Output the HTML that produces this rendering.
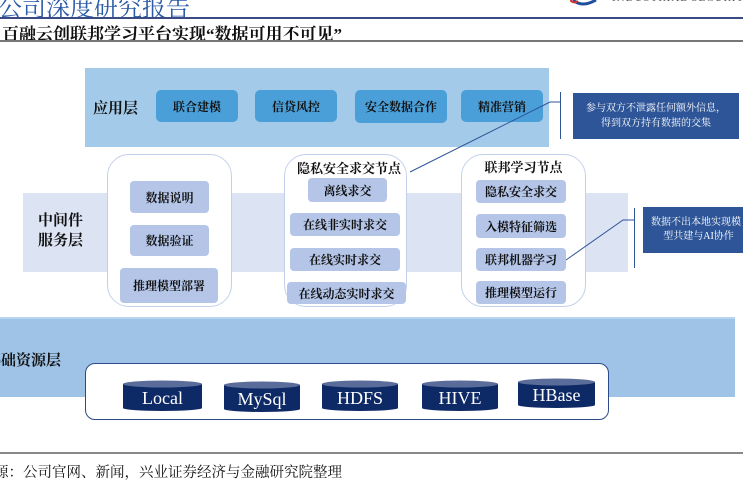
<!DOCTYPE html>
<html><head><meta charset="utf-8"><style>
*{margin:0;padding:0;box-sizing:border-box}
body{width:743px;height:480px;position:relative;overflow:hidden;background:#fff;font-family:"Liberation Serif","Noto Serif CJK SC","Noto Sans CJK SC",serif;color:#111}
.a{position:absolute}
.c{display:flex;align-items:center;justify-content:center;text-align:center}
.btn{background:#4a9fd8;border-radius:5px;font-weight:bold;font-size:12px}
.sb{background:#b4c5e8;border-radius:4px;font-weight:bold;font-size:12px}
.col{background:#fff;border:1.5px solid #c3d0ec;border-radius:22px}
.note{background:#2e5597;color:#fff;font-size:10px;line-height:15px}
</style></head><body>
<div class="a" style="left:-2px;top:-12px;font-size:24px;color:#2a5aa8;white-space:nowrap">公司深度研究报告</div>
<svg class="a" style="left:570px;top:0" width="30" height="8"><path d="M3 0 Q12 8 26 0" stroke="#1f4e9e" stroke-width="3" fill="none"/><path d="M0 0 Q4 4 8 1" stroke="#d03030" stroke-width="2" fill="none"/></svg>
<div class="a" style="left:612px;top:-8px;font-size:11px;color:#555;letter-spacing:1px;white-space:nowrap">INDUSTRIAL SECURITIES</div>
<div class="a" style="left:0;top:17px;width:743px;height:2px;background:#3a4a82"></div>
<div class="a" style="left:2px;top:20px;font-size:17px;font-weight:bold;white-space:nowrap">百融云创联邦学习平台实现“数据可用不可见”</div>
<div class="a" style="left:0;top:40px;width:743px;height:2px;background:#777"></div>

<div class="a" style="left:85px;top:68px;width:464px;height:79px;background:#a3cbe9"></div>
<div class="a" style="left:93px;top:97px;font-size:15px;font-weight:bold">应用层</div>
<div class="a c btn" style="left:156px;top:90px;width:82px;height:32px">联合建模</div>
<div class="a c btn" style="left:255px;top:90px;width:82px;height:32px">信贷风控</div>
<div class="a c btn" style="left:355px;top:90px;width:92px;height:33px">安全数据合作</div>
<div class="a c btn" style="left:461px;top:90px;width:82px;height:32px">精准营销</div>
<div class="a" style="left:560px;top:92px;width:1px;height:47px;background:#2e5597"></div>
<div class="a c note" style="left:573px;top:93px;width:166px;height:46px">参与双方不泄露任何额外信息，<br>得到双方持有数据的交集</div>

<div class="a" style="left:23px;top:193px;width:605px;height:79px;background:#dce3f3"></div>
<div class="a" style="left:38px;top:211px;font-size:15px;font-weight:bold;line-height:20px">中间件<br>服务层</div>

<div class="a col" style="left:107px;top:154px;width:125px;height:153px"></div>
<div class="a c sb" style="left:130px;top:181px;width:79px;height:32px">数据说明</div>
<div class="a c sb" style="left:130px;top:225px;width:79px;height:31px">数据验证</div>
<div class="a c sb" style="left:120px;top:268px;width:98px;height:35px">推理模型部署</div>

<div class="a col" style="left:284px;top:154px;width:123px;height:153px"></div>
<div class="a" style="left:289px;top:158px;width:120px;text-align:center;font-size:13px;font-weight:bold">隐私安全求交节点</div>
<div class="a c sb" style="left:308px;top:178px;width:79px;height:24px">离线求交</div>
<div class="a c sb" style="left:290px;top:213px;width:110px;height:23px">在线非实时求交</div>
<div class="a c sb" style="left:290px;top:248px;width:110px;height:23px">在线实时求交</div>
<div class="a c sb" style="left:287px;top:282px;width:119px;height:22px">在线动态实时求交</div>

<div class="a col" style="left:461px;top:154px;width:125px;height:153px"></div>
<div class="a" style="left:461px;top:157px;width:125px;text-align:center;font-size:13px;font-weight:bold">联邦学习节点</div>
<div class="a c sb" style="left:476px;top:180px;width:90px;height:23px">隐私安全求交</div>
<div class="a c sb" style="left:476px;top:214px;width:90px;height:24px">入模特征筛选</div>
<div class="a c sb" style="left:476px;top:248px;width:90px;height:23px">联邦机器学习</div>
<div class="a c sb" style="left:476px;top:281px;width:90px;height:23px">推理模型运行</div>

<div class="a" style="left:634px;top:208px;width:1px;height:60px;background:#2e5597"></div>
<div class="a c note" style="left:643px;top:207px;width:110px;height:46px;justify-content:flex-start;padding-left:8px;white-space:nowrap;line-height:14px">数据不出本地实现模<br>&nbsp;&nbsp;型共建与AI协作</div>
<svg class="a" style="left:0;top:0" width="743" height="480"><polyline points="410,172 550,102 560,102" fill="none" stroke="#2e5597" stroke-width="1"/><polyline points="566,260 623,220 634,220" fill="none" stroke="#2e5597" stroke-width="1"/></svg>

<div class="a" style="left:0;top:317px;width:735px;height:80px;background:#9ec3e6;border-top:2px solid #b9d4ee"></div>
<div class="a" style="left:-14px;top:349px;font-size:15px;font-weight:bold;white-space:nowrap">基础资源层</div>
<div class="a" style="left:85px;top:363px;width:524px;height:57px;background:#fff;border:1px solid #2e4a8a;border-radius:10px"></div>
<svg class="a" style="left:0;top:0" width="743" height="480" font-family="Liberation Serif,serif" font-size="18" fill="#fff" text-anchor="middle">
<g><rect x="123" y="384" width="79" height="24" fill="#0e2a66"/><ellipse cx="162.5" cy="384" rx="39.5" ry="3.5" fill="#5a6d9a"/><ellipse cx="162.5" cy="408" rx="39.5" ry="3" fill="#0e2a66"/><text x="162.5" y="404">Local</text></g>
<g><rect x="224" y="385" width="76" height="24" fill="#0e2a66"/><ellipse cx="262" cy="385" rx="38" ry="3.5" fill="#5a6d9a"/><ellipse cx="262" cy="409" rx="38" ry="3" fill="#0e2a66"/><text x="262" y="405">MySql</text></g>
<g><rect x="322" y="384" width="76" height="24" fill="#0e2a66"/><ellipse cx="360" cy="384" rx="38" ry="3.5" fill="#5a6d9a"/><ellipse cx="360" cy="408" rx="38" ry="3" fill="#0e2a66"/><text x="360" y="404">HDFS</text></g>
<g><rect x="422" y="384" width="76" height="24" fill="#0e2a66"/><ellipse cx="460" cy="384" rx="38" ry="3.5" fill="#5a6d9a"/><ellipse cx="460" cy="408" rx="38" ry="3" fill="#0e2a66"/><text x="460" y="404">HIVE</text></g>
<g><rect x="518" y="382" width="77" height="23" fill="#0e2a66"/><ellipse cx="556.5" cy="382" rx="38.5" ry="3.5" fill="#5a6d9a"/><ellipse cx="556.5" cy="405" rx="38.5" ry="3" fill="#0e2a66"/><text x="556.5" y="401">HBase</text></g>
</svg>

<div class="a" style="left:0;top:452px;width:743px;height:1.5px;background:#888"></div>
<div class="a" style="left:-6px;top:461px;font-size:14.5px;white-space:nowrap">源：公司官网、新闻，兴业证券经济与金融研究院整理</div>
</body></html>
